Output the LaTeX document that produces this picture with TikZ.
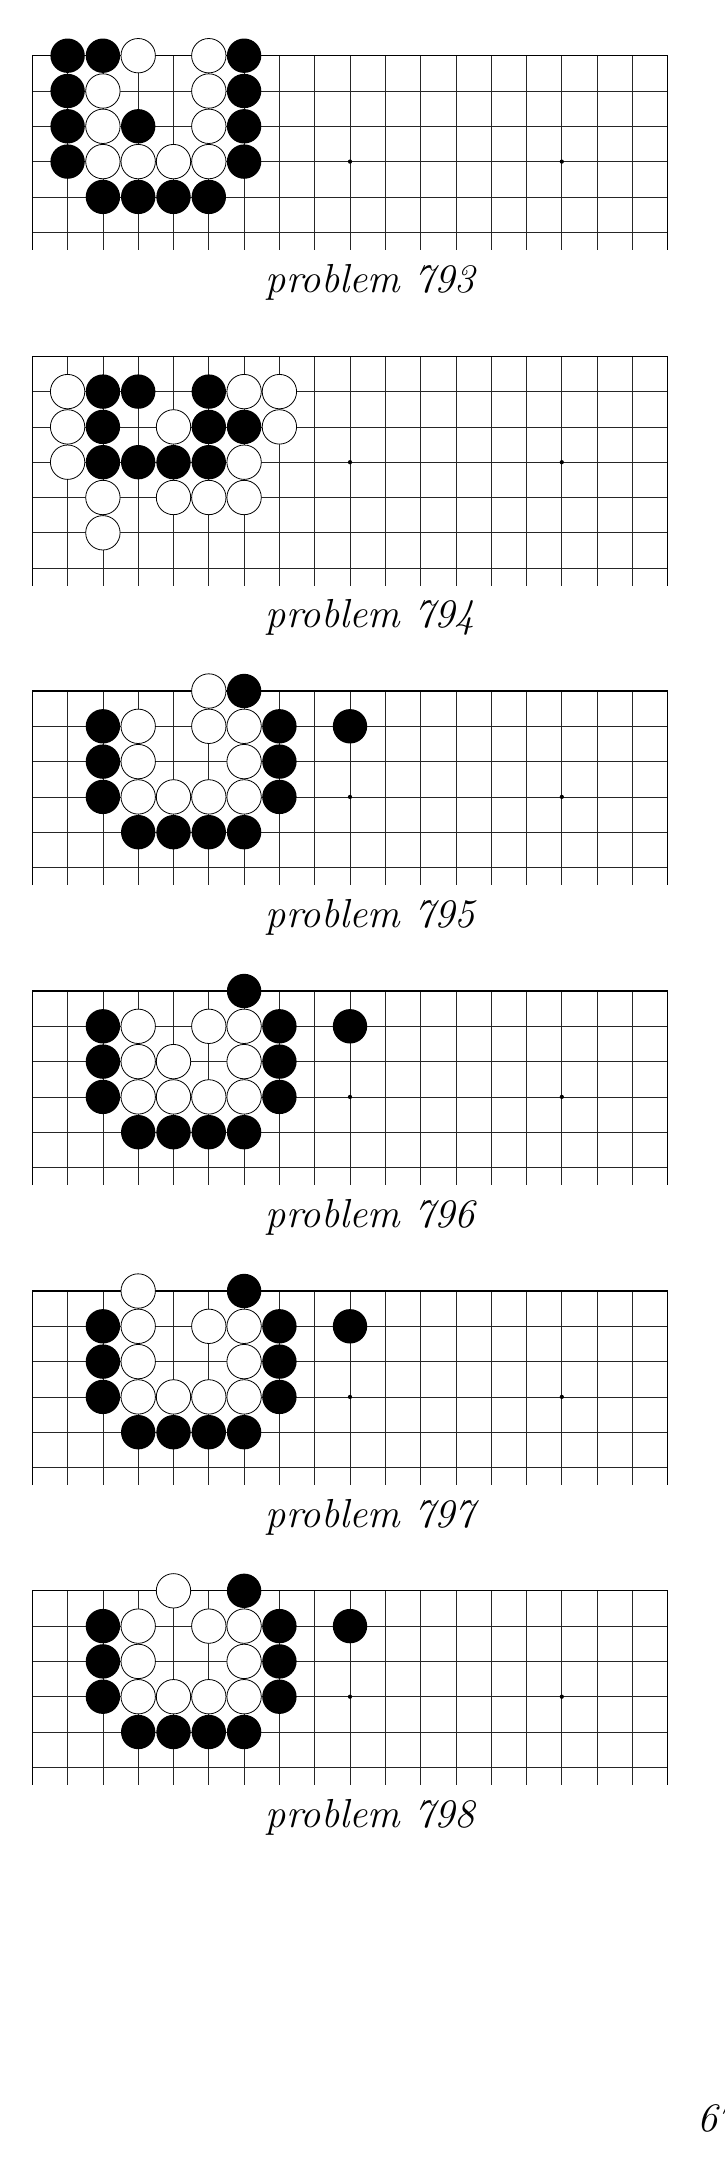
\documentclass[tikz,border=0pt]{standalone}
\usepackage{fontspec}
\tikzset{
  gridline/.style={line width=0.7pt, black!85},
  edgeline/.style={line width=1.3pt, black, line join=miter},
  bstone/.style={fill=black},
  wstone/.style={fill=white, draw=black, line width=0.8pt},
  starpt/.style={fill=black},
  caption/.style={font=\fontsize{40.5}{48}\selectfont\itshape, anchor=base, inner sep=0pt},
}
% #1 top y (px), #2 last row index, #3 black stones, #4 white stones
\newcommand{\goboard}[4]{%
\begin{scope}[shift={(32.3pt,-#1pt)}, x=35.3pt, y=-35.3pt]
  \foreach \r in {1,...,#2} \draw[gridline] (0,\r) -- (18,\r);
  \foreach \c in {1,...,17} \draw[gridline] (\c,0) -- (\c,#2+0.5);
  \draw[edgeline] (0,#2+0.5) -- (0,0) -- (18,0) -- (18,#2+0.5);
  \foreach \c in {3,9,15} \fill[starpt] (\c,3) circle[radius=0.06];
  \foreach \c/\r in {#3} \fill[bstone] (\c,\r) circle[radius=0.487];
  \foreach \c/\r in {#4} \draw[wstone] (\c,\r) circle[radius=0.487];
\end{scope}}
\begin{document}
\begin{tikzpicture}[x=1pt, y=-1pt]
\useasboundingbox (0,0) rectangle (724,2181);
\fill[white] (0,0) rectangle (724,2181);

% problem 793
\goboard{55.7}{5}
  {1/0,2/0,6/0,1/1,6/1,1/2,3/2,6/2,1/3,6/3,2/4,3/4,4/4,5/4}
  {3/0,5/0,2/1,5/1,2/2,5/2,2/3,3/3,4/3,5/3}
\node[caption] (cap793) at (370.5,292) {problem 793};

% problem 794
\goboard{356.3}{6}
  {2/1,3/1,5/1,2/2,5/2,6/2,2/3,3/3,4/3,5/3}
  {1/1,6/1,7/1,1/2,4/2,7/2,1/3,6/3,2/4,4/4,5/4,6/4,2/5}
\node[caption] (cap794) at (370.5,627.9) {problem 794};

% problem 795
\goboard{691}{5}
  {6/0,2/1,7/1,9/1,2/2,7/2,2/3,7/3,3/4,4/4,5/4,6/4}
  {5/0,3/1,5/1,6/1,3/2,6/2,3/3,4/3,5/3,6/3}
\node[caption] (cap795) at (370.5,927.3) {problem 795};

% problem 796
\goboard{991}{5}
  {6/0,2/1,7/1,9/1,2/2,7/2,2/3,7/3,3/4,4/4,5/4,6/4}
  {3/1,5/1,6/1,3/2,4/2,6/2,3/3,4/3,5/3,6/3}
\node[caption] (cap796) at (370.5,1227.3) {problem 796};

% problem 797
\goboard{1291}{5}
  {6/0,2/1,7/1,9/1,2/2,7/2,2/3,7/3,3/4,4/4,5/4,6/4}
  {3/0,3/1,5/1,6/1,3/2,6/2,3/3,4/3,5/3,6/3}
\node[caption] (cap797) at (370.5,1527.3) {problem 797};

% problem 798
\goboard{1590.8}{5}
  {6/0,2/1,7/1,9/1,2/2,7/2,2/3,7/3,3/4,4/4,5/4,6/4}
  {4/0,3/1,5/1,6/1,3/2,6/2,3/3,4/3,5/3,6/3}
\node[caption] (cap798) at (370.5,1827.3) {problem 798};

% page number (cut at the right edge)
\node[caption, anchor=base west] (pagenum) at (697.5,2131.7) {67};
\end{tikzpicture}
\end{document}
